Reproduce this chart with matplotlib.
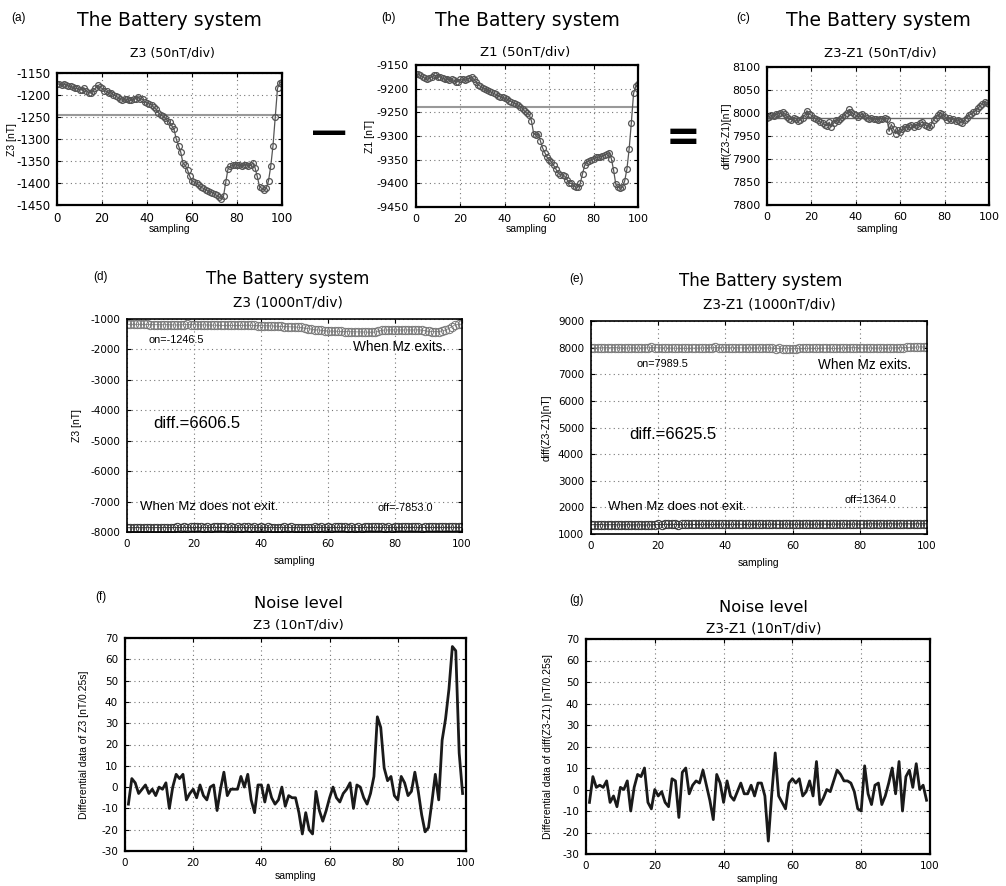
import numpy as np
import matplotlib
matplotlib.use("Agg")
import matplotlib.pyplot as plt

plt.rcParams['font.family'] = ['DejaVu Sans']
plt.rcParams['axes.unicode_minus'] = False

W, H = 1006, 886

# ---- data ----
x101 = np.arange(0, 101)
x99 = np.arange(1, 100)

z3 = [-1175, -1175, -1178, -1175, -1177, -1180,
      -1180, -1182, -1185, -1185, -1188,
      -1188, -1185, -1190, -1195, -1195,
      -1190, -1185, -1178,
      -1182, -1185, -1190, -1192,
      -1195, -1195, -1200, -1202, -1205,
      -1210, -1212, -1208,
      -1210, -1212, -1212, -1210, -1208,
      -1205, -1208, -1210,
      -1215, -1218, -1220,
      -1222, -1228, -1232,
      -1240, -1245, -1248, -1252,
      -1258, -1262, -1270, -1278,
      -1300, -1315, -1330,
      -1355, -1360, -1370,
      -1385, -1395, -1398, -1400,
      -1405, -1410, -1412, -1415,
      -1418, -1420, -1422, -1425,
      -1428, -1432, -1436,
      -1430, -1398, -1368,
      -1362, -1360, -1358, -1360,
      -1358, -1362, -1360, -1358, -1362, -1360,
      -1355, -1365, -1385,
      -1408, -1412, -1415, -1412,
      -1395, -1362, -1315, -1250, -1185, -1172, -1170]

z1 = [-9168, -9170, -9172, -9175, -9178,
      -9180, -9178, -9175, -9172, -9172,
      -9175, -9175, -9178, -9180, -9180,
      -9182, -9180, -9182, -9185, -9185,
      -9180, -9180, -9182, -9180, -9178,
      -9175, -9180, -9185,
      -9192, -9195, -9198,
      -9200, -9203, -9205, -9208, -9210,
      -9212, -9215, -9218, -9218, -9220,
      -9222, -9225, -9228, -9230, -9232,
      -9235, -9238, -9242, -9248,
      -9252, -9255, -9268,
      -9295, -9298, -9295,
      -9310, -9325, -9335,
      -9345, -9350, -9355, -9362,
      -9370, -9378, -9382, -9382,
      -9385, -9392, -9400, -9400,
      -9405, -9408, -9408, -9400,
      -9380, -9362,
      -9355, -9352, -9350, -9348,
      -9345, -9345, -9344, -9342, -9340, -9338,
      -9335, -9348, -9372,
      -9402, -9408, -9410, -9408,
      -9395, -9370, -9328, -9272, -9210, -9195, -9190]

dz = [7990, 7992, 7995, 7993,
      7997, 7998, 8000, 8003,
      7998, 7992, 7988,
      7985, 7990, 7988, 7982,
      7985, 7990, 7995,
      8005,
      7998, 7995, 7990,
      7988, 7985, 7980, 7978,
      7975, 7972, 7980, 7970,
      7978, 7985, 7983, 7988,
      7992, 7995, 8000, 8008,
      8002, 7998, 7995,
      7992, 7995, 7998, 7993, 7990,
      7988, 7990, 7988, 7987, 7985,
      7988, 7987, 7990, 7988,
      7960, 7975, 7965, 7955, 7962,
      7958, 7965, 7970, 7968,
      7972, 7975, 7970, 7975,
      7972, 7978, 7980, 7975,
      7972, 7970, 7975, 7985,
      7990, 7995, 8000, 7998,
      7992, 7985, 7990, 7985,
      7988, 7982, 7985, 7980,
      7978, 7985, 7990, 7995,
      7998, 8002, 8005, 8010,
      8015, 8020, 8025, 8022, 8020]

z3_off = [-7862, -7858, -7860, -7855, -7861, -7857, -7859, -7856, -7860, -7854,
          -7858, -7855, -7857, -7853, -7856, -7852, -7855, -7850, -7853, -7849,
          -7852, -7848, -7851, -7854, -7850, -7853, -7849, -7852, -7848, -7851,
          -7855, -7851, -7854, -7850, -7853, -7849, -7852, -7856, -7852, -7855,
          -7851, -7854, -7850, -7853, -7857, -7853, -7856, -7852, -7855, -7851,
          -7854, -7858, -7854, -7857, -7853, -7856, -7852, -7855, -7851, -7854,
          -7850, -7853, -7849, -7852, -7848, -7851, -7855, -7851, -7854, -7850,
          -7853, -7849, -7852, -7848, -7851, -7847, -7850, -7854, -7850, -7853,
          -7849, -7852, -7848, -7851, -7847, -7850, -7846, -7849, -7853, -7849,
          -7852, -7848, -7851, -7847, -7850, -7846, -7849, -7845, -7848, -7852, -7849]

dz_off = [1345, 1352, 1348, 1355, 1342, 1350, 1346, 1353, 1340, 1348,
          1344, 1351, 1338, 1346, 1342, 1349, 1336, 1344, 1340, 1356,
          1360, 1355, 1362, 1358, 1365, 1360, 1356, 1363, 1359, 1366,
          1361, 1357, 1364, 1360, 1367, 1362, 1358, 1365, 1361, 1368,
          1363, 1359, 1366, 1362, 1369, 1364, 1360, 1367, 1363, 1370,
          1365, 1361, 1368, 1364, 1371, 1366, 1362, 1369, 1365, 1372,
          1367, 1363, 1370, 1366, 1373, 1368, 1364, 1371, 1367, 1374,
          1369, 1365, 1372, 1368, 1375, 1370, 1366, 1373, 1369, 1376,
          1371, 1367, 1380, 1376, 1383, 1378, 1374, 1381, 1377, 1384,
          1379, 1375, 1382, 1378, 1385, 1380, 1376, 1383, 1379, 1386, 1382]

noise_z3 = [-8, 4, 2, -3, -1, 1, -3, -1, -4, 0,
            -1, 2, -10, 0, 6, 4, 6, -6, -3, -1,
            -5, 1, -4, -6, 0, 1, -11, -1, 7, -4,
            -1, -1, -1, 5, 0, 6, -6, -12, 1, 1,
            -7, 1, -5, -8, -6, 0, -9, -4, -5, -5,
            -12, -22, -12, -20, -22, -2, -11, -16, -11, -5,
            0, -5, -7, -3, -1, 2, -10, 1, 0, -5,
            -8, -3, 5, 33, 28, 9, 3, 5, -4, -6,
            5, 2, -4, -2, 7, -2, -13, -21, -19, -7,
            6, -6, 22, 32, 46, 66, 64, 16, -3]

noise_dz = [-6, 6, 1, 2, 1, 4, -6, -3, -8, 1,
            0, 4, -10, 1, 7, 6, 10, -6, -9, 0,
            -3, -1, -6, -8, 5, 4, -13, 8, 10, -2,
            2, 4, 3, 9, 2, -5, -14, 7, 3, -6,
            4, -3, -5, -1, 3, -2, -2, 2, -3, 3,
            3, -3, -24, -2, 17, -3, -6, -9, 3, 5,
            3, 5, -3, -1, 4, -3, 13, -7, -4, 0,
            -1, 4, 9, 7, 4, 4, 3, -1, -9, -10,
            11, -2, -7, 2, 3, -7, -3, 3, 10, -2,
            13, -10, 6, 9, 1, 12, 0, 2, -5]

on_z3, off_z3_mean = -1246.5, -7853.0
on_dz, off_dz_mean = 7989.5, 1364.0
z1_mean = -9238

# ---- layout ----
fig = plt.figure(figsize=(W / 100, H / 100), dpi=100)


def px_axes(l, t, r, b):
    return fig.add_axes([l / W, 1 - b / H, (r - l) / W, (b - t) / H])


def ftext(x, y, s, **kw):
    fig.text(x / W, 1 - y / H, s, ha='center', va='center', **kw)


def style(ax, box, ylab, ylab_x, xlab_y, tsize):
    l, t, r, b = box
    ax.set_xlim(0, 100)
    ax.set_xticks(range(0, 101, 20))
    ax.grid(True, linestyle=(0, (1, 3)), color='#777777', lw=0.8)
    for s in ax.spines.values():
        s.set_linewidth(1.6)
    ax.tick_params(direction='in', top=True, right=True, length=3,
                   labelsize=tsize, pad=5)
    ax.set_ylabel(ylab, fontsize=7.5, family='Liberation Sans', va='center')
    ax.yaxis.set_label_coords((ylab_x - l) / (r - l), 0.5)
    ax.set_xlabel('sampling', fontsize=7.5, family='Liberation Sans',
                  va='center')
    ax.xaxis.set_label_coords(0.5, (b - xlab_y) / (b - t))


mk = dict(marker='o', mfc='none', ms=4.2, mew=0.9)

# (a)
box = (57, 73, 282, 205)
ax = px_axes(*box)
ax.axhline(on_z3, color='#999999', lw=1.5)
ax.plot(x101, z3, color='#555555', lw=0.9, mec='#555555', **mk)
ax.set_ylim(-1450, -1150)
ax.set_yticks(range(-1450, -1149, 50))
style(ax, box, 'Z3 [nT]', 12, 229, 8.5)
ftext(18, 18, '(a)', fontsize=8.5, family='Liberation Sans')
ftext(169, 20, 'The Battery system', fontsize=13.5)
ftext(172, 53, 'Z3 (50nT/div)', fontsize=9)

# (b)
box = (416, 65, 638, 207)
ax = px_axes(*box)
ax.axhline(z1_mean, color='#999999', lw=1.5)
ax.plot(x101, z1, color='#555555', lw=0.9, mec='#555555', **mk)
ax.set_ylim(-9450, -9150)
ax.set_yticks(range(-9450, -9149, 50))
style(ax, box, 'Z1 [nT]', 370, 229, 8)
ftext(388, 18, '(b)', fontsize=8.5, family='Liberation Sans')
ftext(527, 20, 'The Battery system', fontsize=13.5)
ftext(525, 52, 'Z1 (50nT/div)', fontsize=9.5)

# (c)
box = (767, 67, 989, 205)
ax = px_axes(*box)
ax.axhline(on_dz, color='#666666', lw=1.0)
ax.plot(x101, dz, color='#555555', lw=0.9, mec='#555555', **mk)
ax.set_ylim(7800, 8100)
ax.set_yticks(range(7800, 8101, 50))
style(ax, box, 'diff(Z3-Z1)[nT]', 727, 229, 8)
ftext(743, 18, '(c)', fontsize=8.5, family='Liberation Sans')
ftext(878, 20, 'The Battery system', fontsize=13.5)
ftext(880, 53, 'Z3-Z1 (50nT/div)', fontsize=9.5)

# operators between the top panels
ftext(329, 133, '\u2014', fontsize=26, fontweight='bold')
ftext(683, 138, '=', fontsize=30, fontweight='bold')

mk2 = dict(marker='o', mfc='none', ms=6, mew=0.7)

# (d)
box = (127, 319, 462, 532)
ax = px_axes(*box)
ax.plot(x101, z3, color='#888888', lw=0.6, mec='#777777', **mk2)
ax.plot(x101, z3_off, color='#222222', lw=0.6, mec='#333333', **mk2)
ax.set_ylim(-8000, -1000)
ax.set_yticks(range(-8000, -999, 1000))
style(ax, box, 'Z3 [nT]', 77, 561, 7.5)
for s in ax.spines.values():
    s.set_linewidth(1.2)
ftext(101, 277, '(d)', fontsize=8.5, family='Liberation Sans')
ftext(288, 279, 'The Battery system', fontsize=12)
ftext(288, 302, 'Z3 (1000nT/div)', fontsize=9.8)
lab = dict(family='Liberation Sans', va='center')
ax.text(6.5, -1680, 'on=-1246.5', fontsize=7.8, **lab)
ax.text(67.5, -1930, 'When Mz exits.', fontsize=9.8, **lab)
ax.text(7.7, -4420, 'diff.=6606.5', fontsize=12, **lab)
ax.text(4, -7180, 'When Mz does not exit.', fontsize=9.5, **lab)
ax.text(74.7, -7210, 'off=-7853.0', fontsize=7.8, **lab)

# (e)
box = (591, 321, 927, 534)
ax = px_axes(*box)
ax.plot(x101, dz, color='#888888', lw=0.6, mec='#777777', **mk2)
ax.plot(x101, dz_off, color='#222222', lw=0.6, mec='#333333', **mk2)
ax.set_ylim(1000, 9000)
ax.set_yticks(range(1000, 9001, 1000))
style(ax, box, 'diff(Z3-Z1)[nT]', 547, 563, 7.5)
for s in ax.spines.values():
    s.set_linewidth(1.2)
ftext(577, 279, '(e)', fontsize=8.5, family='Liberation Sans')
ftext(761, 281, 'The Battery system', fontsize=12)
ftext(769, 304, 'Z3-Z1 (1000nT/div)', fontsize=9.8)
ax.text(13.4, 7375, 'on=7989.5', fontsize=7.8, **lab)
ax.text(67.6, 7360, 'When Mz exits.', fontsize=9.8, **lab)
ax.text(11.4, 4725, 'diff.=6625.5', fontsize=12, **lab)
ax.text(5.1, 2000, 'When Mz does not exit.', fontsize=9.5, **lab)
ax.text(75.4, 2275, 'off=1364.0', fontsize=7.8, **lab)

# (f)
box = (125, 638, 466, 851)
ax = px_axes(*box)
ax.plot(x99, noise_z3, color='#1a1a1a', lw=2.0)
ax.set_ylim(-30, 70)
ax.set_yticks(range(-30, 71, 10))
style(ax, box, 'Differential data of Z3 [nT/0.25s]', 84, 876, 7.5)
ftext(101, 597, '(f)', fontsize=8.5, family='Liberation Sans')
ftext(298, 604, 'Noise level', fontsize=11.7)
ftext(298, 625, 'Z3 (10nT/div)', fontsize=9.6)

# (g)
box = (586, 639, 930, 854)
ax = px_axes(*box)
ax.plot(x99, noise_dz, color='#1a1a1a', lw=2.0)
ax.set_ylim(-30, 70)
ax.set_yticks(range(-30, 71, 10))
style(ax, box, 'Differential data of diff(Z3-Z1) [nT/0.25s]', 548, 879, 7.5)
ftext(577, 600, '(g)', fontsize=8.5, family='Liberation Sans')
ftext(763, 607, 'Noise level', fontsize=11.7)
ftext(764, 628, 'Z3-Z1 (10nT/div)', fontsize=9.8)

fig.savefig('out.png', dpi=100)
